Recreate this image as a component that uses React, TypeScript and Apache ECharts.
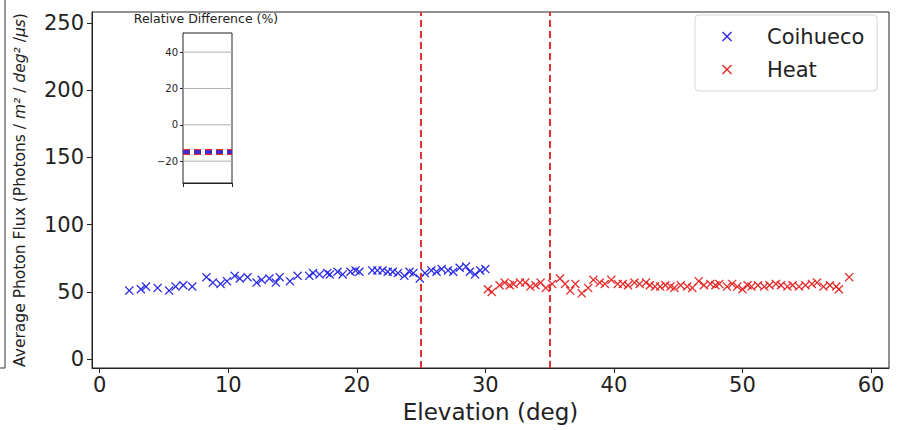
import React, { useEffect, useRef } from "react";
import * as echarts from "echarts";

const coihuecoX = [2.3, 3.2, 3.6, 4.5, 5.4, 5.9, 6.5, 7.2, 8.3, 8.8, 9.4, 9.9, 10.5, 10.9, 11.5, 12.2, 12.6, 13.2, 13.7, 14.0, 14.8, 15.4, 16.3, 16.6, 17.1, 17.7, 17.9, 18.5, 18.9, 19.5, 19.9, 20.2, 21.2, 21.6, 22.0, 22.4, 22.8, 23.2, 23.7, 24.1, 24.4, 24.9, 25.3, 25.8, 26.2, 26.6, 27.1, 27.5, 28.0, 28.5, 28.8, 29.2, 29.6, 30.0];
const coihuecoY = [51, 52, 54, 53, 51, 54, 55, 54, 61, 57, 56, 58, 62, 60, 61, 57, 59, 60, 57, 61, 58, 62, 62, 64, 63, 64, 63, 65, 63, 65, 66, 65, 66, 66, 66, 65, 65, 64, 62, 65, 64, 60, 64, 66, 65, 67, 66, 65, 68, 69, 65, 63, 66, 67];

const heatX = [30.2, 30.5, 31.1, 31.5, 31.9, 32.2, 32.7, 33.1, 33.5, 33.9, 34.3, 34.7, 35.2, 35.8, 36.2, 36.6, 37.0, 37.5, 38.0, 38.4, 38.9, 39.3, 39.8, 40.3, 40.7, 41.1, 41.6, 42.0, 42.5, 42.8, 43.2, 43.6, 44.0, 44.4, 44.7, 45.2, 45.7, 46.1, 46.6, 47.0, 47.5, 47.9, 48.2, 48.8, 49.2, 49.6, 50.0, 50.4, 50.7, 51.2, 51.7, 52.1, 52.6, 53.0, 53.5, 53.9, 54.4, 54.9, 55.4, 55.8, 56.3, 56.8, 57.3, 57.5, 58.3];
const heatY = [52, 50, 55, 57, 55, 56, 57, 57, 54, 55, 57, 53, 56, 60, 56, 51, 56, 49, 53, 59, 57, 56, 59, 56, 56, 55, 57, 56, 57, 55, 54, 54, 55, 54, 53, 55, 54, 53, 58, 55, 56, 55, 56, 54, 56, 54, 52, 55, 54, 55, 54, 55, 56, 55, 54, 55, 54, 55, 56, 57, 54, 55, 54, 52, 61];

const boundaryLines = [25, 35];
const xTicks = [0, 10, 20, 30, 40, 50, 60];
const yTicks = [0, 50, 100, 150, 200, 250];

const insetX = [0, 1];
const insetCoihueco = [-15, -15];
const insetHeat = [-15, -15];
const insetTicks = [-20, 0, 20, 40];

const XPATH = "path://M0,1L1,0L5,4L9,0L10,1L6,5L10,9L9,10L5,6L1,10L0,9L4,5Z";
const FONT = "DejaVu Sans";

export default function App() {
  const ref = useRef<HTMLDivElement>(null);
  useEffect(() => {
    if (!ref.current) return;
    const chart = echarts.init(ref.current, null, { renderer: "svg" });
    const zip = (xs: number[], ys: number[]) => xs.map((x, i) => [x, ys[i]]);
    const minus = (v: number) => (v < 0 ? "\u2212" + Math.abs(v) : String(v));
    const gridSeries = insetTicks.map((t) => ({
      name: "insetGrid" + t, type: "line", xAxisIndex: 1, yAxisIndex: 1, z: 11,
      data: insetX.map((x) => [x, t]), showSymbol: false, silent: true,
      lineStyle: { color: "#b0b0b0", width: 1 },
    }));
    chart.setOption({
      animation: false,
      textStyle: { fontFamily: FONT },
      grid: [
        { left: 92, right: 10, top: 12, bottom: 62, show: true, borderColor: "#222", borderWidth: 1, backgroundColor: "#fff" },
        { left: 183, top: 33, width: 49, height: 150, show: true, borderColor: "#222", borderWidth: 1, backgroundColor: "#fff", z: 10 },
      ],
      xAxis: [
        {
          type: "value", gridIndex: 0, min: -0.6, max: 61.4,
          name: "Elevation (deg)", nameLocation: "middle", nameGap: 31,
          nameTextStyle: { fontSize: 23, color: "#222", fontFamily: FONT, lineHeight: 24 },
          axisLine: { show: true, onZero: false, lineStyle: { color: "#222" } },
          axisTick: { show: true, length: 5, lineStyle: { color: "#222" }, customValues: xTicks },
          axisLabel: { fontSize: 21, color: "#222", margin: 6, customValues: xTicks, fontFamily: FONT },
          splitLine: { show: false },
        },
        {
          type: "value", gridIndex: 1, min: 0, max: 1, interval: 1,
          axisLine: { show: true, onZero: false, lineStyle: { color: "#222" } },
          axisTick: { show: true, length: 4, lineStyle: { color: "#222" } },
          axisLabel: { show: false },
          splitLine: { show: false },
        },
      ],
      yAxis: [
        {
          type: "value", gridIndex: 0, min: -6.5, max: 258,
          name: "Average Photon Flux (Photons / {i|m²} / {i|deg²} /{i|μs})",
          nameLocation: "middle", nameGap: 64,
          nameTextStyle: { fontSize: 15.5, color: "#222", fontFamily: FONT, rich: { i: { fontStyle: "italic", fontSize: 15.5, fontFamily: FONT, color: "#222" } } },
          axisLine: { show: true, onZero: false, lineStyle: { color: "#222" } },
          axisTick: { show: true, length: 5, lineStyle: { color: "#222" }, customValues: yTicks },
          axisLabel: { fontSize: 21, color: "#222", margin: 8, customValues: yTicks, fontFamily: FONT },
          splitLine: { show: false },
        },
        {
          type: "value", gridIndex: 1, min: -32, max: 50.5,
          axisLine: { show: true, onZero: false, lineStyle: { color: "#222" } },
          axisTick: { show: true, length: 3, lineStyle: { color: "#222" }, customValues: insetTicks },
          axisLabel: { fontSize: 10, color: "#222", margin: 5, customValues: insetTicks, formatter: minus, fontFamily: FONT },
          splitLine: { show: false },
        },
      ],
      legend: {
        data: ["Coihueco", "Heat"],
        orient: "vertical", left: 695, top: 15,
        padding: [10, 13, 10, 27],
        itemWidth: 10, itemHeight: 10, itemGap: 10,
        backgroundColor: "#fff", borderColor: "#d5d5d5", borderWidth: 1, borderRadius: 4,
        textStyle: { fontSize: 21, color: "#222", padding: [0, 0, 0, 30], lineHeight: 23, fontFamily: FONT },
      },
      graphic: [
        { type: "polyline", shape: { points: [[0, 368], [5, 368], [5, 0]] }, style: { stroke: "#333", lineWidth: 1, fill: "none" } },
        { type: "text", x: 206, y: 18, style: { text: "Relative Difference (%)", fontSize: 12.5, fill: "#222", align: "center", verticalAlign: "middle", fontFamily: FONT } },
      ],
      series: [
        {
          name: "Coihueco", type: "scatter", xAxisIndex: 0, yAxisIndex: 0,
          data: zip(coihuecoX, coihuecoY), symbol: XPATH, symbolSize: 9,
          itemStyle: { color: "#1f1fe6", opacity: 0.95 },
          markLine: {
            silent: true, symbol: ["none", "none"], label: { show: false },
            lineStyle: { color: "#dd3333", type: [7, 4], width: 2 },
            data: boundaryLines.map((v) => ({ xAxis: v })),
            z: 5,
          },
        },
        {
          name: "Heat", type: "scatter", xAxisIndex: 0, yAxisIndex: 0,
          data: zip(heatX, heatY), symbol: XPATH, symbolSize: 9,
          itemStyle: { color: "#e61f1f", opacity: 0.95 },
        },
        ...gridSeries,
        {
          name: "insetHeat", type: "line", xAxisIndex: 1, yAxisIndex: 1, z: 12,
          data: zip(insetX, insetHeat), showSymbol: false,
          lineStyle: { color: "#e02a2a", width: 6, type: [7, 4] },
        },
        {
          name: "insetCoihueco", type: "line", xAxisIndex: 1, yAxisIndex: 1, z: 13,
          data: zip(insetX, insetCoihueco), showSymbol: false,
          lineStyle: { color: "#3a2ad8", width: 3.5, type: [7, 4] },
        },
      ],
    });
    return () => chart.dispose();
  }, []);
  return <div ref={ref} style={{ width: 899, height: 430, position: "absolute", left: 0, top: 0 }} />;
}
